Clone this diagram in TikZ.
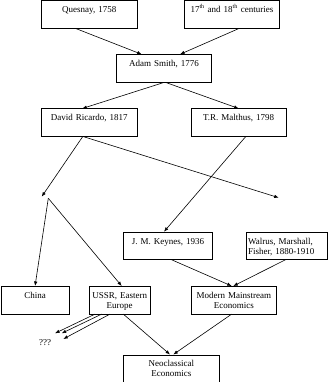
\documentclass[tikz,border=0pt]{standalone}
\usepackage{fontspec}
\setmainfont{Liberation Serif}
\usetikzlibrary{arrows.meta, positioning, calc}

\begin{document}
\begin{tikzpicture}[x=1pt, y=-1pt, line width=0.6pt,
    font=\fontsize{9}{10}\selectfont,
    box/.style={draw, anchor=north west, text width=#1, minimum height=27.5pt,
        inner xsep=2pt, inner ysep=2pt, align=center, text height=10pt, text depth=13.5pt},
    arr/.style={-{Latex[length=4.5pt, width=3.5pt]}}]
    \useasboundingbox (0,0) rectangle (327,382);

    % boxes
    \node[box=91.4pt] (quesnay) at (41.3,0.5) {Quesnay, 1758};
    \node[box=91.3pt] (cent) at (184,0.5) {17\textsuperscript{th} and 18\textsuperscript{th} centuries};
    \node[box=91pt] (smith) at (116.3,54.3) {Adam Smith, 1776};
    \node[box=91.4pt] (ricardo) at (41.3,108.5) {David Ricardo, 1817};
    \node[box=91.3pt] (malthus) at (190.7,108.5) {T.R. Malthus, 1798};
    \node[box=84.7pt] (keynes) at (123.3,231.7) {J. M. Keynes, 1936};
    \node[box=76.8pt, align=left] (walrus) at (245.7,231.7) {Walrus, Marshall,\\Fisher, 1880-1910};
    \node[box=64.5pt] (china) at (0.5,286) {China};
    \node[box=56.7pt] (ussr) at (89,286) {USSR, Eastern\\Europe};
    \node[box=81pt] (mainstream) at (191,286) {Modern Mainstream\\Economics};
    \node[box=91.7pt] (neo) at (123.3,354.5) {Neoclassical\\Economics};
    \node (unknown) at (45,343) {???};

    % free ends
    \coordinate (left) at (41.7,196.7);
    \coordinate (right) at (278.7,197.7);
    \coordinate (fork) at (48.3,198.3);
    \coordinate (u1) at (55,333.3);
    \coordinate (u2) at (61.7,333.3);
    \coordinate (u3) at (63.3,339);

    % arrows
    \draw[arr] ([xshift=34.7pt]quesnay.south west) -- ([xshift=25.4pt]smith.north west);
    \draw[arr] ([xshift=54.7pt]cent.south west) -- ([xshift=63.7pt]smith.north west);
    \draw[arr] (smith.south) -- ([xshift=41pt]ricardo.north west);
    \draw[arr] ([xshift=1.5pt]smith.south) -- (malthus.north);
    \draw[arr] ([xshift=41.4pt]ricardo.south west) -- (left);
    \draw[arr] ([xshift=42pt]ricardo.south west) -- (right);
    \draw[arr] ([xshift=55pt]malthus.south west) -- ([xshift=40.7pt]keynes.north west);
    \draw[arr] (fork) -- (china.north);
    \draw[arr] (fork) -- ([xshift=32.7pt]ussr.north west);
    \draw[arr] ([xshift=48.4pt]keynes.south west) -- ([xshift=40.7pt]mainstream.north west);
    \draw[arr] ([xshift=-1pt]walrus.south) -- ([xshift=42.3pt]mainstream.north west);
    \draw[arr] ([xshift=34.3pt]ussr.south west) -- ([xshift=46.7pt]neo.north west);
    \draw[arr] ([xshift=40.7pt]mainstream.south west) -- ([xshift=50pt]neo.north west);
    \draw[arr] ([xshift=6pt]ussr.south west) -- (u1);
    \draw[arr] ([xshift=12.7pt]ussr.south west) -- (u2);
    \draw[arr] ([xshift=21pt]ussr.south west) -- (u3);
\end{tikzpicture}
\end{document}
